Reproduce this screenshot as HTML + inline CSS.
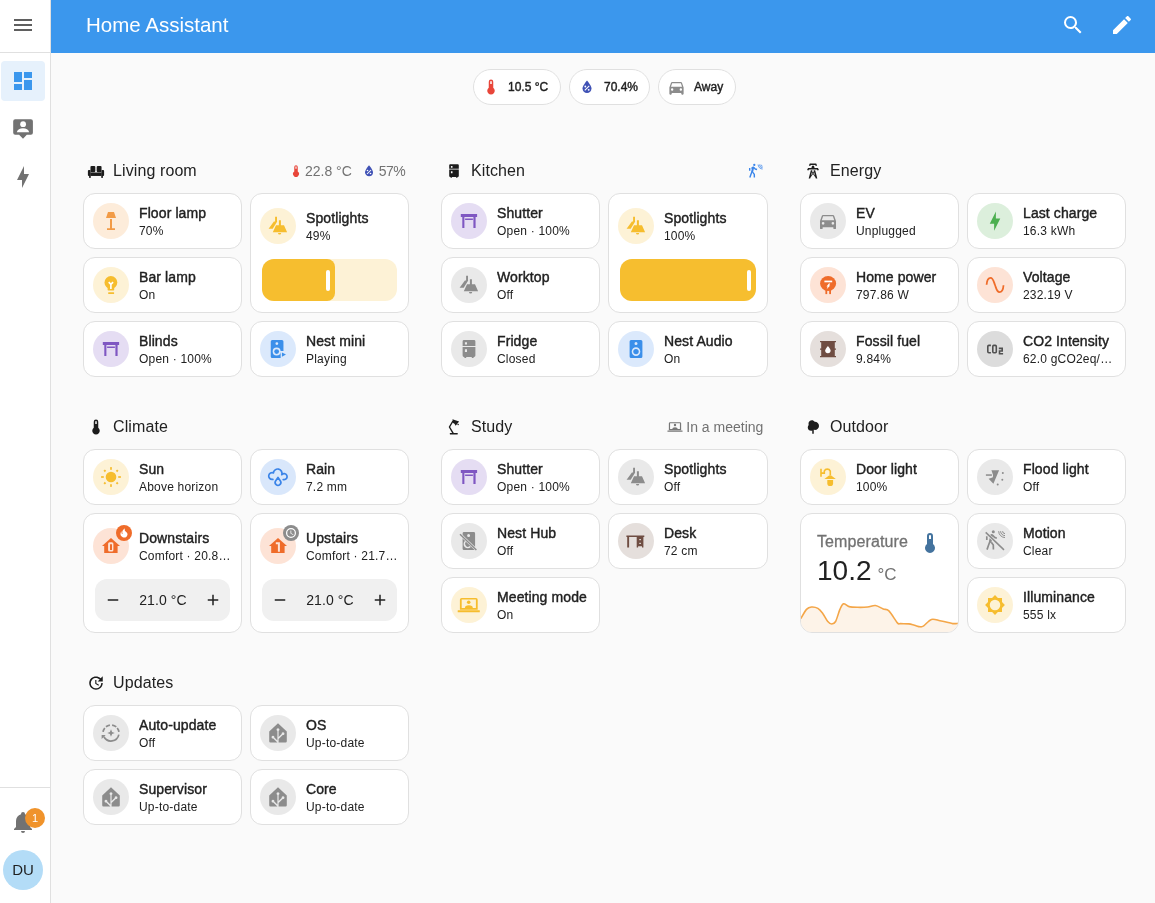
<!DOCTYPE html><html><head><meta charset="utf-8"><style>
*{box-sizing:border-box;margin:0;padding:0}
html,body{width:1155px;height:903px;overflow:hidden;background:#fafafa;font-family:"Liberation Sans",sans-serif;color:#212121}
.info,.hd,.badge,.tc,.abs{will-change:transform}
#sb{position:absolute;left:0;top:0;width:51px;height:903px;background:#fff;border-right:1px solid #e0e0e0}
#hdr{position:absolute;left:51px;top:0;width:1104px;height:53px;background:#3b97ed}
.abs{position:absolute}
.tile{position:absolute;background:#fff;border:1px solid #e0e0e0;border-radius:12px}
.tile .ic{position:absolute;left:9px;width:36px;height:36px;border-radius:50%;display:flex;align-items:center;justify-content:center}
.tile .info{position:absolute;left:55px;right:10px}
.tile .p{font-size:14px;line-height:20px;font-weight:400;-webkit-text-stroke:0.4px #212121;letter-spacing:0.1px;white-space:nowrap;overflow:hidden;text-overflow:ellipsis;color:#212121}
.tile .s{font-size:12px;line-height:16px;letter-spacing:0.2px;white-space:nowrap;overflow:hidden;text-overflow:ellipsis;color:#212121}
.ib{position:absolute;left:23px;top:-3px;width:16px;height:16px;border-radius:50%;display:flex;align-items:center;justify-content:center}
.sl{position:absolute;left:11px;right:11px;top:65px;height:42px;border-radius:12px;background:#fdf2d6;overflow:hidden}
.sl .fill{position:absolute;left:0;top:0;bottom:0;background:#f6be2f;border-radius:0 8px 8px 0}
.sl .hdl{position:absolute;right:5px;top:11px;width:4px;height:21px;border-radius:2px;background:#fff}
.tc{position:absolute;left:11px;right:11px;top:65px;height:42px;border-radius:12px;background:#f0f0f0;display:flex;align-items:center;justify-content:space-between;padding:0 8px 0 9px}
.tc .tv{font-size:14px;letter-spacing:0.1px}
.hd{position:absolute;height:24px;display:flex;align-items:center;padding:0 4px 0 4px}
.hd .hi{width:18px;height:18px;margin-right:8px}
.hd .ht{font-size:16px;color:#212121;flex:1;letter-spacing:0.1px}
.hd .hr{display:flex;align-items:center;font-size:14px;color:#727272}
.badge{position:absolute;top:69px;height:36px;border:1px solid #e0e0e0;border-radius:18px;background:#fff;display:flex;align-items:center;padding:0 0 0 8px;font-size:12px;font-weight:400;-webkit-text-stroke:0.4px #212121;letter-spacing:0;color:#212121;white-space:nowrap}
.badge svg{margin-right:8px;flex-shrink:0}
</style></head><body>
<div id="sb">
<div class="abs" style="left:11px;top:13px"><svg width="24" height="24" viewBox="0 0 24 24" fill="#5f5f5f" style="display:block;color:#5f5f5f;"><path d="M3,6H21V8H3V6M3,11H21V13H3V11M3,16H21V18H3V16Z"/></svg></div>
<div class="abs" style="left:0;top:52px;width:50px;height:1px;background:#e0e0e0"></div>
<div class="abs" style="left:1px;top:61px;width:44px;height:40px;border-radius:4px;background:#e6f1fc"></div>
<div class="abs" style="left:11px;top:69px"><svg width="24" height="24" viewBox="0 0 24 24" fill="#3b97ed" style="display:block;color:#3b97ed;"><path d="M13,3V9H21V3M13,21H21V11H13M3,21H11V15H3M3,13H11V3H3V13Z"/></svg></div>
<div class="abs" style="left:11px;top:116.8px"><svg width="24" height="24" viewBox="0 0 24 24" fill="#727272" style="display:block;color:#727272;"><path d="M4.2,2.3H19.9A2,2 0 0 1 21.9,4.3V15.8A2,2 0 0 1 19.9,17.8H15.8L12,21.8L8.1,17.8H4.2A2,2 0 0 1 2.2,15.8V4.3A2,2 0 0 1 4.2,2.3Z"/><circle cx="12.1" cy="7.2" r="2.9" fill="#fff"/><path fill="#fff" d="M5.8,15.3C6.3,12.6 9,11.2 12,11.2C15,11.2 17.7,12.6 18.2,15.3Z"/></svg></div>
<div class="abs" style="left:11px;top:164.7px"><svg width="24" height="24" viewBox="0 0 24 24" fill="#727272" style="display:block;color:#727272;"><path d="M11 15H6L13 1V9H18L11 23V15Z"/></svg></div>
<div class="abs" style="left:0;top:787px;width:50px;height:1px;background:#e0e0e0"></div>
<div class="abs" style="left:11px;top:810px"><svg width="24" height="24" viewBox="0 0 24 24" fill="#727272" style="display:block;color:#727272;"><path d="M21,19V20H3V19L5,17V11C5,7.9 7.03,5.17 10,4.29C10,4.19 10,4.1 10,4A2,2 0 0,1 12,2A2,2 0 0,1 14,4C14,4.1 14,4.19 14,4.29C16.97,5.17 19,7.9 19,11V17L21,19M14,21A2,2 0 0,1 12,23A2,2 0 0,1 10,21"/></svg></div>
<div class="abs" style="left:25px;top:808px;width:20px;height:20px;border-radius:50%;background:#f0932b;color:#fff;font-size:11px;display:flex;align-items:center;justify-content:center">1</div>
<div class="abs" style="left:3px;top:850px;width:40px;height:40px;border-radius:50%;background:#b3dcf7;color:#1f1f1f;font-size:15px;display:flex;align-items:center;justify-content:center;padding-bottom:1px">DU</div>
</div>
<div id="hdr">
<div class="abs" style="left:35px;top:13px;font-size:20.5px;color:#fff;line-height:24px">Home Assistant</div>
<div class="abs" style="left:1010px;top:12.7px"><svg width="24" height="24" viewBox="0 0 24 24" fill="#fff" style="display:block;color:#fff;"><path d="M9.5,3A6.5,6.5 0 0,1 16,9.5C16,11.11 15.41,12.59 14.44,13.73L14.71,14H15.5L20.5,19L19,20.5L14,15.5V14.71L13.73,14.44C12.59,15.41 11.11,16 9.5,16A6.5,6.5 0 0,1 3,9.5A6.5,6.5 0 0,1 9.5,3M9.5,5C7,5 5,7 5,9.5C5,12 7,14 9.5,14C12,14 14,12 14,9.5C14,7 12,5 9.5,5Z"/></svg></div>
<div class="abs" style="left:1059px;top:12.8px"><svg width="24" height="24" viewBox="0 0 24 24" fill="#fff" style="display:block;color:#fff;"><path d="M20.71,7.04C21.1,6.65 21.1,6 20.71,5.63L18.37,3.29C18,2.9 17.35,2.9 16.96,3.29L15.12,5.12L18.87,8.87M3,17.25V21H6.75L17.81,9.93L14.06,6.18L3,17.25Z"/></svg></div>
</div>
<div class="badge" style="left:473px;width:88px"><svg width="18" height="18" viewBox="0 0 24 24" fill="#e8463a" style="display:block;color:#e8463a;"><path d="M15 13V5A3 3 0 0 0 9 5V13A5 5 0 1 0 15 13M12 4A1 1 0 0 1 13 5V8H11V5A1 1 0 0 1 12 4Z"/></svg>10.5 °C</div>
<div class="badge" style="left:569px;width:80.5px"><svg width="18" height="18" viewBox="0 0 24 24" fill="#3f51b5" style="display:block;color:#3f51b5;"><path d="M12,3.25C12,3.25 6,10 6,14C6,17.32 8.69,20 12,20A6,6 0 0,0 18,14C18,10 12,3.25 12,3.25Z"/><path fill="#fff" d="M14.47,9.97L15.53,11.03L9.53,17.03L8.47,15.97Z"/><circle fill="#fff" cx="9.75" cy="11.25" r="1.25"/><circle fill="#fff" cx="14.25" cy="15.75" r="1.25"/></svg>70.4%</div>
<div class="badge" style="left:658px;width:77.5px"><svg width="19" height="19" viewBox="0 0 24 24" fill="#8c8c8c" style="display:block;color:#8c8c8c;margin-right:8px"><path d="M5,11L6.5,6.5H17.5L19,11M17.5,16A1.5,1.5 0 0,1 16,14.5A1.5,1.5 0 0,1 17.5,13A1.5,1.5 0 0,1 19,14.5A1.5,1.5 0 0,1 17.5,16M6.5,16A1.5,1.5 0 0,1 5,14.5A1.5,1.5 0 0,1 6.5,13A1.5,1.5 0 0,1 8,14.5A1.5,1.5 0 0,1 6.5,16M18.92,6C18.72,5.42 18.16,5 17.5,5H6.5C5.84,5 5.28,5.42 5.08,6L3,12V20A1,1 0 0,0 4,21H5A1,1 0 0,0 6,20V19H18V20A1,1 0 0,0 19,21H20A1,1 0 0,0 21,20V12L18.92,6Z"/></svg>Away</div>
<div class="hd" style="left:83.00px;top:159px;width:326.33px">
<div class="hi"><svg width="18" height="18" viewBox="0 0 24 24" fill="#1c1c1c" style="display:block;color:#1c1c1c;"><rect x="1.2" y="10.8" width="3.6" height="7.8" rx="1.2"/><rect x="19.2" y="10.8" width="3.6" height="7.8" rx="1.2"/><rect x="4.4" y="14" width="15.2" height="4.6"/><rect x="4.6" y="5.3" width="6.5" height="8.2" rx="1.4"/><rect x="12.9" y="5.3" width="6.5" height="8.2" rx="1.4"/><rect x="2.8" y="18" width="2.2" height="3.2"/><rect x="19" y="18" width="2.2" height="3.2"/></svg></div><div class="ht">Living room</div><div class="hr"><svg width="14" height="14" viewBox="0 0 24 24" fill="#e8463a" style="display:block;color:#e8463a;"><path d="M15 13V5A3 3 0 0 0 9 5V13A5 5 0 1 0 15 13M12 4A1 1 0 0 1 13 5V8H11V5A1 1 0 0 1 12 4Z"/></svg><span style="margin:0 9px 0 2px">22.8 °C</span><svg width="16" height="16" viewBox="0 0 24 24" fill="#3f51b5" style="display:block;color:#3f51b5;"><path d="M12,3.25C12,3.25 6,10 6,14C6,17.32 8.69,20 12,20A6,6 0 0,0 18,14C18,10 12,3.25 12,3.25Z"/><path fill="#fff" d="M14.47,9.97L15.53,11.03L9.53,17.03L8.47,15.97Z"/><circle fill="#fff" cx="9.75" cy="11.25" r="1.25"/><circle fill="#fff" cx="14.25" cy="15.75" r="1.25"/></svg><span style="margin-left:2px;letter-spacing:-0.5px">57%</span></div></div><div class="hd" style="left:441.33px;top:159px;width:326.33px">
<div class="hi"><svg width="18" height="18" viewBox="0 0 24 24" fill="#1c1c1c" style="display:block;color:#1c1c1c;"><path fill-rule="evenodd" d="M7,3H17A1.4,1.4 0 0 1 18.4,4.4V9.1H5.6V4.4A1.4,1.4 0 0 1 7,3Z M7.9,5.3V7.6H10V5.3Z M5.6,10.1H18.4V18.6A1.4,1.4 0 0 1 17,20H16.6V21H14.8V20H9.2V21H7.4V20H7A1.4,1.4 0 0 1 5.6,18.6Z M7.9,12.3V15H10V12.3Z"/></svg></div><div class="ht">Kitchen</div><div class="hr"><svg width="17" height="17" viewBox="0 0 24 24" fill="#3a85ea" style="display:block;color:#3a85ea;margin-right:-1px"><circle cx="10.3" cy="2.8" r="1.6"/><path d="M8.6,6.4L7.3,12.4" fill="none" stroke="currentColor" stroke-width="2.8" stroke-linecap="round"/><path d="M6.2,7.4L9.6,6.2L11.6,8.4L14.2,9.2M3.8,7.2V11M7.1,12L5.6,16L4,20.6M8.3,13.2L10.3,16L10.4,20.6" fill="none" stroke="currentColor" stroke-width="2" stroke-linejoin="round"/><path d="M15.7,2.2A6.3,6.3 0 0 0 22,8.5M17.6,2.2A4.4,4.4 0 0 0 22,6.6M19.6,2.2A2.4,2.4 0 0 0 22,4.6" fill="none" stroke="currentColor" stroke-width="1.1"/></svg></div></div><div class="hd" style="left:799.66px;top:159px;width:326.33px">
<div class="hi"><svg width="18" height="18" viewBox="0 0 24 24" fill="#1c1c1c" style="display:block;color:#1c1c1c;"><path d="M8.28,5.45L6.5,4.55L7.76,2H16.23L17.5,4.55L15.72,5.44L15,4H9L8.28,5.45M18.62,8H14.09L13.3,5H10.7L9.91,8H5.38L4.1,10.55L5.89,11.44L6.62,10H17.38L18.1,11.45L19.89,10.56L18.62,8M17.77,22H15.7L15.46,21.1L12,15.9L8.53,21.1L8.3,22H6.23L9.12,11H11.19L10.83,12.35L12,14.1L13.16,12.35L12.81,11H14.88L17.77,22M11.4,15L10.5,13.65L9.32,18.13L11.4,15M14.68,18.12L13.5,13.64L12.6,15L14.68,18.12Z"/></svg></div><div class="ht">Energy</div><div class="hr"></div></div><div class="hd" style="left:83.00px;top:415px;width:326.33px">
<div class="hi"><svg width="18" height="18" viewBox="0 0 24 24" fill="#1c1c1c" style="display:block;color:#1c1c1c;"><path d="M15 13V5A3 3 0 0 0 9 5V13A5 5 0 1 0 15 13M12 4A1 1 0 0 1 13 5V8H11V5A1 1 0 0 1 12 4Z"/></svg></div><div class="ht">Climate</div><div class="hr"></div></div><div class="hd" style="left:441.33px;top:415px;width:326.33px">
<div class="hi"><svg width="18" height="18" viewBox="0 0 24 24" fill="#1c1c1c" style="display:block;color:#1c1c1c;"><path d="M10.9,20.5L5.9,12L10.6,4" fill="none" stroke="currentColor" stroke-width="1.9" stroke-linejoin="round"/><rect x="6.4" y="19.9" width="10.6" height="2" rx="0.5"/><path d="M10,1.8L18.8,4.6L14.2,10.2L12.6,7.6L10.3,6.2Z"/><circle cx="17.5" cy="8.8" r="1"/></svg></div><div class="ht">Study</div><div class="hr"><svg width="16" height="16" viewBox="0 0 24 24" fill="#777" style="display:block;color:#777;"><path fill-rule="evenodd" d="M4.6,4.7H19.4A1.8,1.8 0 0 1 21.2,6.5V16.9H2.8V6.5A1.8,1.8 0 0 1 4.6,4.7Z M4.6,6.5V15.1H19.4V6.5Z"/><rect x="0.7" y="17.3" width="22.6" height="1.9" rx="0.3"/><circle cx="12" cy="9.1" r="1.8"/><path d="M7.9,15A4.1,2.6 0 0 1 16.1,15Z"/></svg><span style="margin-left:3px">In a meeting</span></div></div><div class="hd" style="left:799.66px;top:415px;width:326.33px">
<div class="hi"><svg width="18" height="18" viewBox="0 0 24 24" fill="#1c1c1c" style="display:block;color:#1c1c1c;"><path d="M11,21V16.74C10.53,16.91 10.03,17 9.5,17C7,17 5,15 5,12.5C5,11.23 5.5,10.09 6.36,9.27C6.13,8.73 6,8.13 6,7.5C6,5 8,3 10.5,3C12.06,3 13.44,3.8 14.25,5C14.33,5 14.41,5 14.5,5A5.5,5.5 0 0,1 20,10.5A5.5,5.5 0 0,1 14.5,16C14,16 13.5,15.93 13,15.79V21H11Z"/></svg></div><div class="ht">Outdoor</div><div class="hr"></div></div><div class="hd" style="left:83.00px;top:671px;width:326.33px">
<div class="hi"><svg width="18" height="18" viewBox="0 0 24 24" fill="#1c1c1c" style="display:block;color:#1c1c1c;"><path d="M21,10.12H14.22L16.96,7.3C14.23,4.6 9.81,4.5 7.08,7.2C4.35,9.91 4.35,14.28 7.08,17C9.81,19.7 14.23,19.7 16.96,17C18.32,15.65 19,14.08 19,12.1H21C21,14.08 20.12,16.65 18.36,18.39C14.85,21.87 9.15,21.87 5.64,18.39C2.14,14.92 2.11,9.28 5.62,5.81C9.13,2.34 14.76,2.34 18.27,5.81L21,3V10.12M12.5,8V12.25L16,14.33L15.28,15.54L11,13V8H12.5Z"/></svg></div><div class="ht">Updates</div><div class="hr"></div></div>
<div class="tile" style="left:83px;top:193px;width:159px;height:56px">
<div class="ic" style="top:9px;background:#fdecda"><svg width="24" height="24" viewBox="0 0 24 24" fill="#f29b46" style="display:block;color:#f29b46;"><path d="M9,3H15L17,9H7Z M11,10H13V19.2H16V21.1H8V19.2H11Z"/></svg></div>
<div class="info" style="top:9px"><div class="p">Floor lamp</div><div class="s">70%</div></div></div><div class="tile" style="left:83px;top:257px;width:159px;height:56px">
<div class="ic" style="top:9px;background:#fdf2d6"><svg width="24" height="24" viewBox="0 0 24 24" fill="#f6bd2e" style="display:block;color:#f6bd2e;"><circle cx="11.9" cy="9.5" r="6.4"/><rect x="8.6" y="12" width="6.6" height="5.5" rx="0.7"/><path d="M9.7,9.1L11.9,11.3L14.1,9.1M11.9,11.3V15.9" fill="none" stroke="#fff" stroke-width="1.6"/><rect x="9.2" y="19.2" width="5.9" height="1.9" rx="0.4"/></svg></div>
<div class="info" style="top:9px"><div class="p">Bar lamp</div><div class="s">On</div></div></div><div class="tile" style="left:83px;top:321px;width:159px;height:56px">
<div class="ic" style="top:9px;background:#e5ddf3"><svg width="24" height="24" viewBox="0 0 24 24" fill="#7f57c2" style="display:block;color:#7f57c2;"><path d="M3.8,5H20.1V7.9H18.6V19.1H16.4V7.9H7.4V19.1H5.3V7.9H3.8Z M8.1,9.4H15.9V10.9H8.1Z"/></svg></div>
<div class="info" style="top:9px"><div class="p">Blinds</div><div class="s">Open · 100%</div></div></div><div class="tile" style="left:250px;top:321px;width:159px;height:56px">
<div class="ic" style="top:9px;background:#dbe9fc"><svg width="24" height="24" viewBox="0 0 24 24" fill="#3b8fea" style="display:block;color:#3b8fea;"><g transform="translate(-0.85 0)"><path fill-rule="evenodd" d="M7.1,3H16.8A1.5,1.5 0 0 1 18.3,4.5V14H15.5V21H7.1A1.5,1.5 0 0 1 5.6,19.5V4.5A1.5,1.5 0 0 1 7.1,3Z M11.5,10.6A4,4 0 1 0 11.5,18.6A4,4 0 1 0 11.5,10.6Z M11.7,5.2A1.4,1.4 0 1 0 11.7,8A1.4,1.4 0 1 0 11.7,5.2Z"/><circle cx="11.5" cy="14.6" r="2.4"/><path d="M16.8,15.4L20.8,17.6L16.8,19.8Z"/></g></svg></div>
<div class="info" style="top:9px"><div class="p">Nest mini</div><div class="s">Playing</div></div></div><div class="tile" style="left:250px;top:193px;width:159px;height:120px">
<div class="ic" style="top:14px;background:#fdf2d6"><svg width="24" height="24" viewBox="0 0 24 24" fill="#f6bd2e" style="display:block;color:#f6bd2e;"><path d="M12.9,6.2H14.9V11.2H18L21.1,18.3H6.8L10,11.2H12.9Z"/><path d="M12,18.9H15.2A1.6,1.6 0 0 1 12,18.9Z"/><path d="M9.1,2.8H11V7.2L11.2,7.4L6.7,14.7H2.6L7.9,7.4H9.1Z"/></svg></div>
<div class="info" style="top:14px"><div class="p">Spotlights</div><div class="s">49%</div></div><div class="sl"><div class="fill" style="width:54%"><div class="hdl"></div></div></div></div><div class="tile" style="left:441px;top:193px;width:159px;height:56px">
<div class="ic" style="top:9px;background:#e5ddf3"><svg width="24" height="24" viewBox="0 0 24 24" fill="#7f57c2" style="display:block;color:#7f57c2;"><path d="M3.8,5H20.1V7.9H18.6V19.1H16.4V7.9H7.4V19.1H5.3V7.9H3.8Z M8.1,9.4H15.9V10.9H8.1Z"/></svg></div>
<div class="info" style="top:9px"><div class="p">Shutter</div><div class="s">Open · 100%</div></div></div><div class="tile" style="left:441px;top:257px;width:159px;height:56px">
<div class="ic" style="top:9px;background:#e9e9e9"><svg width="24" height="24" viewBox="0 0 24 24" fill="#8c8c8c" style="display:block;color:#8c8c8c;"><path d="M12.9,6.2H14.9V11.2H18L21.1,18.3H6.8L10,11.2H12.9Z"/><path d="M12,18.9H15.2A1.6,1.6 0 0 1 12,18.9Z"/><path d="M9.1,2.8H11V7.2L11.2,7.4L6.7,14.7H2.6L7.9,7.4H9.1Z"/></svg></div>
<div class="info" style="top:9px"><div class="p">Worktop</div><div class="s">Off</div></div></div><div class="tile" style="left:441px;top:321px;width:159px;height:56px">
<div class="ic" style="top:9px;background:#e9e9e9"><svg width="24" height="24" viewBox="0 0 24 24" fill="#8c8c8c" style="display:block;color:#8c8c8c;"><path fill-rule="evenodd" d="M7,3H17A1.4,1.4 0 0 1 18.4,4.4V9.1H5.6V4.4A1.4,1.4 0 0 1 7,3Z M7.9,5.3V7.6H10V5.3Z M5.6,10.1H18.4V18.6A1.4,1.4 0 0 1 17,20H16.6V21H14.8V20H9.2V21H7.4V20H7A1.4,1.4 0 0 1 5.6,18.6Z M7.9,12.3V15H10V12.3Z"/></svg></div>
<div class="info" style="top:9px"><div class="p">Fridge</div><div class="s">Closed</div></div></div><div class="tile" style="left:608px;top:321px;width:160px;height:56px">
<div class="ic" style="top:9px;background:#dbe9fc"><svg width="24" height="24" viewBox="0 0 24 24" fill="#3b8fea" style="display:block;color:#3b8fea;"><path fill-rule="evenodd" d="M7.1,3H16.9A1.5,1.5 0 0 1 18.4,4.5V19.5A1.5,1.5 0 0 1 16.9,21H7.1A1.5,1.5 0 0 1 5.6,19.5V4.5A1.5,1.5 0 0 1 7.1,3Z M12,10.3A4.3,4.3 0 1 0 12,18.9A4.3,4.3 0 1 0 12,10.3Z M12,5.1A1.5,1.5 0 1 0 12,8.1A1.5,1.5 0 1 0 12,5.1Z"/><circle cx="12" cy="14.6" r="2.7"/></svg></div>
<div class="info" style="top:9px"><div class="p">Nest Audio</div><div class="s">On</div></div></div><div class="tile" style="left:608px;top:193px;width:160px;height:120px">
<div class="ic" style="top:14px;background:#fdf2d6"><svg width="24" height="24" viewBox="0 0 24 24" fill="#f6bd2e" style="display:block;color:#f6bd2e;"><path d="M12.9,6.2H14.9V11.2H18L21.1,18.3H6.8L10,11.2H12.9Z"/><path d="M12,18.9H15.2A1.6,1.6 0 0 1 12,18.9Z"/><path d="M9.1,2.8H11V7.2L11.2,7.4L6.7,14.7H2.6L7.9,7.4H9.1Z"/></svg></div>
<div class="info" style="top:14px"><div class="p">Spotlights</div><div class="s">100%</div></div><div class="sl"><div class="fill" style="width:100%"><div class="hdl"></div></div></div></div><div class="tile" style="left:800px;top:193px;width:159px;height:56px">
<div class="ic" style="top:9px;background:#e9e9e9"><svg width="24" height="24" viewBox="0 0 24 24" fill="#8c8c8c" style="display:block;color:#8c8c8c;"><g transform="translate(1.32 1.43) scale(0.89)"><path d="M5,11L6.5,6.5H17.5L19,11M17.5,16A1.5,1.5 0 0,1 16,14.5A1.5,1.5 0 0,1 17.5,13A1.5,1.5 0 0,1 19,14.5A1.5,1.5 0 0,1 17.5,16M6.5,16A1.5,1.5 0 0,1 5,14.5A1.5,1.5 0 0,1 6.5,13A1.5,1.5 0 0,1 8,14.5A1.5,1.5 0 0,1 6.5,16M18.92,6C18.72,5.42 18.16,5 17.5,5H6.5C5.84,5 5.28,5.42 5.08,6L3,12V20A1,1 0 0,0 4,21H5A1,1 0 0,0 6,20V19H18V20A1,1 0 0,0 19,21H20A1,1 0 0,0 21,20V12L18.92,6Z"/></g></svg></div>
<div class="info" style="top:9px"><div class="p">EV</div><div class="s">Unplugged</div></div></div><div class="tile" style="left:967px;top:193px;width:159px;height:56px">
<div class="ic" style="top:9px;background:#dcefdc"><svg width="24" height="24" viewBox="0 0 24 24" fill="#4caf50" style="display:block;color:#4caf50;"><g transform="translate(1.5 1.5) scale(0.875)"><path d="M11 15H6L13 1V9H18L11 23V15Z"/></g></svg></div>
<div class="info" style="top:9px"><div class="p">Last charge</div><div class="s">16.3 kWh</div></div></div><div class="tile" style="left:800px;top:257px;width:159px;height:56px">
<div class="ic" style="top:9px;background:#fde3d6"><svg width="24" height="24" viewBox="0 0 24 24" fill="#ef6c2a" style="display:block;color:#ef6c2a;"><ellipse cx="12.1" cy="10.5" rx="8" ry="7.5"/><rect x="9.4" y="15" width="1.8" height="6.1"/><rect x="13.2" y="15" width="1.8" height="6.1"/><rect x="8.4" y="7.6" width="7.8" height="1.7" fill="#fff"/><path fill="#fff" d="M12.9,10.5H14.3L13,12.6H14.2L10.6,16.3L11.7,13.6H10.5Z"/></svg></div>
<div class="info" style="top:9px"><div class="p">Home power</div><div class="s">797.86 W</div></div></div><div class="tile" style="left:967px;top:257px;width:159px;height:56px">
<div class="ic" style="top:9px;background:#fde3d6"><svg width="24" height="24" viewBox="0 0 24 24" fill="#ef6c2a" style="display:block;color:#ef6c2a;"><path d="M3.6,11.8C3.9,7 5.5,4.9 7.6,4.9C10.2,4.9 10.8,9 12,12C13.2,15 13.8,19.1 16.4,19.1C18.5,19.1 20.2,17 20.5,12.2" fill="none" stroke="currentColor" stroke-width="1.8"/></svg></div>
<div class="info" style="top:9px"><div class="p">Voltage</div><div class="s">232.19 V</div></div></div><div class="tile" style="left:800px;top:321px;width:159px;height:56px">
<div class="ic" style="top:9px;background:#e5dfdc"><svg width="24" height="24" viewBox="0 0 24 24" fill="#6f4d42" style="display:block;color:#6f4d42;"><path d="M4,4H20V5.3H18.8V11.4H20V12.7H18.8V19H20V20.2H4V19H5.2V12.7H4V11.4H5.2V5.3H4Z"/><path fill="#fff" d="M11.9,8.9C11.9,8.9 9.2,11.8 9.2,13.5A2.7,2.7 0 0 0 14.6,13.5C14.6,11.8 11.9,8.9 11.9,8.9Z"/></svg></div>
<div class="info" style="top:9px"><div class="p">Fossil fuel</div><div class="s">9.84%</div></div></div><div class="tile" style="left:967px;top:321px;width:159px;height:56px">
<div class="ic" style="top:9px;background:#dcdcdc"><svg width="24" height="24" viewBox="0 0 24 24" fill="#505050" style="display:block;color:#505050;"><g fill="none" stroke="currentColor" stroke-width="1.6"><path d="M7.9,8.4H5.9Q4.8,8.4 4.8,9.5V14.6Q4.8,15.7 5.9,15.7H7.9"/><rect x="9.8" y="8.4" width="3.5" height="7.3" rx="1"/><path d="M15.8,11.4H19.2V14H16.5V16.7H20.1"/></g></svg></div>
<div class="info" style="top:9px"><div class="p">CO2 Intensity</div><div class="s">62.0 gCO2eq/kWh</div></div></div><div class="tile" style="left:83px;top:449px;width:159px;height:56px">
<div class="ic" style="top:9px;background:#fdf2d6"><svg width="24" height="24" viewBox="0 0 24 24" fill="#f6bd2e" style="display:block;color:#f6bd2e;"><circle cx="12" cy="12" r="5.3"/><rect x="11.15" y="2.1" width="1.7" height="2.7"/><rect x="11.15" y="19.2" width="1.7" height="2.7"/><rect x="2.1" y="11.15" width="2.7" height="1.7"/><rect x="19.2" y="11.15" width="2.7" height="1.7"/><rect x="4.9" y="4.9" width="1.9" height="1.9" transform="rotate(45 5.85 5.85)"/><rect x="17.2" y="4.9" width="1.9" height="1.9" transform="rotate(45 18.15 5.85)"/><rect x="4.9" y="17.2" width="1.9" height="1.9" transform="rotate(45 5.85 18.15)"/><rect x="17.2" y="17.2" width="1.9" height="1.9" transform="rotate(45 18.15 18.15)"/></svg></div>
<div class="info" style="top:9px"><div class="p">Sun</div><div class="s">Above horizon</div></div></div><div class="tile" style="left:250px;top:449px;width:159px;height:56px">
<div class="ic" style="top:9px;background:#d9e7fb"><svg width="24" height="24" viewBox="0 0 24 24" fill="#3b84e8" style="display:block;color:#3b84e8;"><g fill="none" stroke="currentColor" stroke-width="1.7" stroke-linecap="round" stroke-linejoin="round"><path d="M6.9,14.40H6.10 A3.4,3.4 0 1 1 7.42,7.87 A4.3,4.3 0 1 1 15.76,9.73 A3.0,3.0 0 1 1 18.10,14.60 H17.2"/><path d="M12,12.4L9.6,15.9A2.85,2.85 0 1 0 14.4,15.9Z"/></g></svg></div>
<div class="info" style="top:9px"><div class="p">Rain</div><div class="s">7.2 mm</div></div></div><div class="tile" style="left:83px;top:513px;width:159px;height:120px">
<div class="ic" style="top:14px;background:#fde3d6"><svg width="24" height="24" viewBox="0 0 24 24" fill="#ef6c2a" style="display:block;color:#ef6c2a;"><path fill-rule="evenodd" d="M12,3.9L3,12H5.2V19H18.6V12H21Z M10.6,8.3H12.9A1.5,1.5 0 0 1 14.4,9.8V16.1A1.5,1.5 0 0 1 12.9,17.6H10.6A1.5,1.5 0 0 1 9.1,16.1V9.8A1.5,1.5 0 0 1 10.6,8.3Z M11,10.3V16H13V10.3Z"/></svg><div class="ib" style="background:#ef6c2a"><svg width="12" height="12" viewBox="0 0 24 24" fill="#fff" style="display:block;color:#fff;"><path d="M17.66 11.2C17.43 10.9 17.15 10.64 16.89 10.38C16.22 9.78 15.46 9.35 14.82 8.72C13.33 7.26 13 4.85 13.95 3C13 3.23 12.17 3.75 11.46 4.32C8.87 6.4 7.85 10.07 9.07 13.22C9.11 13.32 9.15 13.42 9.15 13.55C9.15 13.77 9 13.97 8.8 14.05C8.57 14.15 8.33 14.09 8.14 13.93C8.08 13.88 8.04 13.83 8 13.76C6.87 12.33 6.69 10.28 7.45 8.64C5.78 10 4.87 12.3 5 14.47C5.06 14.97 5.12 15.47 5.29 15.97C5.43 16.57 5.7 17.17 6 17.7C7.08 19.43 8.95 20.67 10.96 20.92C13.1 21.19 15.39 20.8 17.03 19.32C18.86 17.66 19.5 15 18.56 12.72L18.43 12.46C18.22 12 17.66 11.2 17.66 11.2Z"/></svg></div></div>
<div class="info" style="top:14px"><div class="p">Downstairs</div><div class="s">Comfort · 20.8 °C</div></div><div class="tc"><div class="tb"><svg width="18" height="18" viewBox="0 0 24 24" fill="#212121" style="display:block;color:#212121;"><path d="M19,13H5V11H19V13Z"/></svg></div><div class="tv">21.0 °C</div><div class="tb"><svg width="18" height="18" viewBox="0 0 24 24" fill="#212121" style="display:block;color:#212121;"><path d="M19,13H13V19H11V13H5V11H11V5H13V11H19V13Z"/></svg></div></div></div><div class="tile" style="left:250px;top:513px;width:159px;height:120px">
<div class="ic" style="top:14px;background:#fde3d6"><svg width="24" height="24" viewBox="0 0 24 24" fill="#ef6c2a" style="display:block;color:#ef6c2a;"><path fill-rule="evenodd" d="M12,3.9L3,12H5.2V19H18.6V12H21Z M9.8,8.3H13.9V17.8H11.9V10.3H9.8Z"/></svg><div class="ib" style="background:#8c8c8c"><svg width="12" height="12" viewBox="0 0 24 24" fill="#fff" style="display:block;color:#fff;"><path fill-rule="evenodd" d="M12,2A10,10 0 1 0 12,22A10,10 0 1 0 12,2Z M12,4.5A7.5,7.5 0 1 1 12,19.5A7.5,7.5 0 1 1 12,4.5Z"/><path d="M12.5,7V12.25L17,14.92L16.25,16.15L11,13V7H12.5Z"/></svg></div></div>
<div class="info" style="top:14px"><div class="p">Upstairs</div><div class="s">Comfort · 21.7 °C</div></div><div class="tc"><div class="tb"><svg width="18" height="18" viewBox="0 0 24 24" fill="#212121" style="display:block;color:#212121;"><path d="M19,13H5V11H19V13Z"/></svg></div><div class="tv">21.0 °C</div><div class="tb"><svg width="18" height="18" viewBox="0 0 24 24" fill="#212121" style="display:block;color:#212121;"><path d="M19,13H13V19H11V13H5V11H11V5H13V11H19V13Z"/></svg></div></div></div><div class="tile" style="left:441px;top:449px;width:159px;height:56px">
<div class="ic" style="top:9px;background:#e5ddf3"><svg width="24" height="24" viewBox="0 0 24 24" fill="#7f57c2" style="display:block;color:#7f57c2;"><path d="M3.8,5H20.1V7.9H18.6V19.1H16.4V7.9H7.4V19.1H5.3V7.9H3.8Z M8.1,9.4H15.9V10.9H8.1Z"/></svg></div>
<div class="info" style="top:9px"><div class="p">Shutter</div><div class="s">Open · 100%</div></div></div><div class="tile" style="left:608px;top:449px;width:160px;height:56px">
<div class="ic" style="top:9px;background:#e9e9e9"><svg width="24" height="24" viewBox="0 0 24 24" fill="#8c8c8c" style="display:block;color:#8c8c8c;"><path d="M12.9,6.2H14.9V11.2H18L21.1,18.3H6.8L10,11.2H12.9Z"/><path d="M12,18.9H15.2A1.6,1.6 0 0 1 12,18.9Z"/><path d="M9.1,2.8H11V7.2L11.2,7.4L6.7,14.7H2.6L7.9,7.4H9.1Z"/></svg></div>
<div class="info" style="top:9px"><div class="p">Spotlights</div><div class="s">Off</div></div></div><div class="tile" style="left:441px;top:513px;width:159px;height:56px">
<div class="ic" style="top:9px;background:#e9e9e9"><svg width="24" height="24" viewBox="0 0 24 24" fill="#8c8c8c" style="display:block;color:#8c8c8c;"><path fill-rule="evenodd" d="M7,3H16.7A1.4,1.4 0 0 1 18.1,4.4V19.7A1.4,1.4 0 0 1 16.7,21.1H7A1.4,1.4 0 0 1 5.6,19.7V4.4A1.4,1.4 0 0 1 7,3Z M11.6,5.1A1.5,1.5 0 1 0 11.6,8.1A1.5,1.5 0 1 0 11.6,5.1Z M7.9,11.9A3.9,3.9 0 0 0 13.8,18.1L12.9,17.1A2.5,2.5 0 0 1 9.3,12.6Z"/><path d="M3,5.3L19.4,20.9" stroke="#e8e8e8" stroke-width="2.6"/><path d="M3,5.3L19.4,20.9" stroke="currentColor" stroke-width="1.4"/></svg></div>
<div class="info" style="top:9px"><div class="p">Nest Hub</div><div class="s">Off</div></div></div><div class="tile" style="left:608px;top:513px;width:160px;height:56px">
<div class="ic" style="top:9px;background:#e5dfdc"><svg width="24" height="24" viewBox="0 0 24 24" fill="#6f4d42" style="display:block;color:#6f4d42;"><path d="M2.4,6.6H20.3V8H19.4V18.6H18V17.3H14.1V18.6H12.7V8H5.1V18.6H3.2V8H2.4Z"/><rect x="15.3" y="10" width="1.6" height="1.2" fill="#e5dedb"/><rect x="15.3" y="13.8" width="1.6" height="1.2" fill="#e5dedb"/></svg></div>
<div class="info" style="top:9px"><div class="p">Desk</div><div class="s">72 cm</div></div></div><div class="tile" style="left:441px;top:577px;width:159px;height:56px">
<div class="ic" style="top:9px;background:#fdf2d6"><svg width="24" height="24" viewBox="0 0 24 24" fill="#f6bd2e" style="display:block;color:#f6bd2e;"><path fill-rule="evenodd" d="M4.6,5.1H19A1.7,1.7 0 0 1 20.7,6.8V16.7H2.9V6.8A1.7,1.7 0 0 1 4.6,5.1Z M4.7,6.6V15.1H18.9V6.6Z"/><rect x="0.7" y="17.3" width="22.1" height="1.9" rx="0.3"/><circle cx="11.7" cy="9.2" r="1.8"/><path d="M7.9,15A3.95,2.8 0 0 1 15.8,15Z"/></svg></div>
<div class="info" style="top:9px"><div class="p">Meeting mode</div><div class="s">On</div></div></div><div class="tile" style="left:800px;top:449px;width:159px;height:56px">
<div class="ic" style="top:9px;background:#fdf2d6"><svg width="24" height="24" viewBox="0 0 24 24" fill="#f6bd2e" style="display:block;color:#f6bd2e;"><path d="M5,3.8V11.8M5,8.1H8.3V6.1A3.3,3.3 0 0 1 14.3,6.1V10.6" fill="none" stroke="currentColor" stroke-width="1.6"/><path d="M13,10.4H15.2L19.8,13.9H8.4Z"/><path d="M11.3,15H17.1V18.2A2.9,2.9 0 0 1 11.3,18.2Z"/></svg></div>
<div class="info" style="top:9px"><div class="p">Door light</div><div class="s">100%</div></div></div><div class="tile" style="left:967px;top:449px;width:159px;height:56px">
<div class="ic" style="top:9px;background:#e9e9e9"><svg width="24" height="24" viewBox="0 0 24 24" fill="#8c8c8c" style="display:block;color:#8c8c8c;"><rect x="2.9" y="9.3" width="6" height="1.5"/><path d="M8.4,5.3H16.1L10.4,18.8L5.6,13.7L9.5,12.5L10.1,11.3L9.9,9.4Z"/><circle cx="19.8" cy="8" r="1"/><circle cx="19.3" cy="14.8" r="1"/><circle cx="14.7" cy="19.6" r="1"/></svg></div>
<div class="info" style="top:9px"><div class="p">Flood light</div><div class="s">Off</div></div></div><div class="tile" style="left:967px;top:513px;width:159px;height:56px">
<div class="ic" style="top:9px;background:#e9e9e9"><svg width="24" height="24" viewBox="0 0 24 24" fill="#8c8c8c" style="display:block;color:#8c8c8c;"><circle cx="10.3" cy="2.8" r="1.5"/><path d="M8.6,6.4L7.3,12.4" fill="none" stroke="currentColor" stroke-width="2.6" stroke-linecap="round"/><path d="M6.2,7.4L9.6,6.2L11.6,8.4L13.8,9.2M3.8,7.2V11M7.1,12L5.6,16L4,20.6M8.3,13.2L10.3,16L10.4,20.6" fill="none" stroke="currentColor" stroke-width="1.7" stroke-linejoin="round"/><path d="M15.7,2.2A6.3,6.3 0 0 0 22,8.5M17.6,2.2A4.4,4.4 0 0 0 22,6.6M19.6,2.2A2.4,2.4 0 0 0 22,4.6" fill="none" stroke="currentColor" stroke-width="1"/><path d="M2.7,3.4L21,20.9" stroke="#e8e8e8" stroke-width="2.8"/><path d="M2.7,3.4L21,20.9" stroke="currentColor" stroke-width="1.5"/></svg></div>
<div class="info" style="top:9px"><div class="p">Motion</div><div class="s">Clear</div></div></div><div class="tile" style="left:967px;top:577px;width:159px;height:56px">
<div class="ic" style="top:9px;background:#fdf2d6"><svg width="24" height="24" viewBox="0 0 24 24" fill="#f6bd2e" style="display:block;color:#f6bd2e;"><g transform="translate(1.5 1.5) scale(0.875)"><path fill-rule="evenodd" d="M20,8.69V4H15.31L12,0.69L8.69,4H4V8.69L0.69,12L4,15.31V20H8.69L12,23.31L15.31,20H20V15.31L23.31,12L20,8.69Z M12,6A6,6 0 1 0 12,18A6,6 0 1 0 12,6Z"/></g></svg></div>
<div class="info" style="top:9px"><div class="p">Illuminance</div><div class="s">555 lx</div></div></div><div class="tile" style="left:800.00px;top:513px;width:159.00px;height:120px;overflow:hidden">
<div class="abs" style="left:16px;top:19px;font-size:16px;color:#727272;letter-spacing:0.1px;-webkit-text-stroke:0.3px #727272">Temperature</div>
<div class="abs" style="left:117px;top:17px"><svg width="24" height="24" viewBox="0 0 24 24" fill="#44739e" style="display:block;color:#44739e;"><path d="M15 13V5A3 3 0 0 0 9 5V13A5 5 0 1 0 15 13M12 4A1 1 0 0 1 13 5V8H11V5A1 1 0 0 1 12 4Z"/></svg></div>
<div class="abs" style="left:16px;top:40px;font-size:28px;color:#212121;line-height:34px">10.2<span style="font-size:17px;color:#727272;margin-left:6px">°C</span></div>
<svg class="abs" style="left:-1px;top:-1px" width="159.0" height="120" viewBox="0 0 159.0 120"><path d="M0.80,105.70 C1.75,104.15 4.72,98.35 6.50,96.40 C8.28,94.45 9.60,94.17 11.50,94.00 C13.40,93.83 16.00,94.28 17.90,95.40 C19.80,96.52 21.25,98.52 22.90,100.70 C24.55,102.88 26.33,106.78 27.80,108.50 C29.27,110.22 30.40,111.00 31.70,111.00 C33.00,111.00 34.23,110.93 35.60,108.50 C36.97,106.07 38.58,99.36 39.90,96.40 C41.22,93.44 41.97,91.22 43.50,90.75 C45.03,90.28 46.73,93.01 49.10,93.60 C51.47,94.19 54.62,94.23 57.70,94.30 C60.78,94.37 64.65,94.30 67.60,94.00 C70.55,93.70 72.80,92.17 75.40,92.50 C78.00,92.83 80.95,95.10 83.20,96.00 C85.45,96.90 86.53,95.58 88.90,97.90 C91.27,100.22 95.50,107.78 97.40,109.90 C99.30,112.02 98.40,110.43 100.30,110.60 C102.20,110.77 106.43,110.62 108.80,110.90 C111.17,111.18 112.60,111.82 114.50,112.30 C116.40,112.78 118.67,113.72 120.20,113.80 C121.73,113.88 121.82,114.03 123.70,112.80 C125.58,111.57 128.78,107.23 131.50,106.40 C134.22,105.57 137.40,107.33 140.00,107.80 C142.60,108.27 144.97,108.73 147.10,109.20 C149.23,109.67 150.90,110.40 152.80,110.60 C154.70,110.80 157.55,110.43 158.50,110.40 L159.0,120 L0,120 Z" fill="#fdf3e8"/><path d="M0.80,105.70 C1.75,104.15 4.72,98.35 6.50,96.40 C8.28,94.45 9.60,94.17 11.50,94.00 C13.40,93.83 16.00,94.28 17.90,95.40 C19.80,96.52 21.25,98.52 22.90,100.70 C24.55,102.88 26.33,106.78 27.80,108.50 C29.27,110.22 30.40,111.00 31.70,111.00 C33.00,111.00 34.23,110.93 35.60,108.50 C36.97,106.07 38.58,99.36 39.90,96.40 C41.22,93.44 41.97,91.22 43.50,90.75 C45.03,90.28 46.73,93.01 49.10,93.60 C51.47,94.19 54.62,94.23 57.70,94.30 C60.78,94.37 64.65,94.30 67.60,94.00 C70.55,93.70 72.80,92.17 75.40,92.50 C78.00,92.83 80.95,95.10 83.20,96.00 C85.45,96.90 86.53,95.58 88.90,97.90 C91.27,100.22 95.50,107.78 97.40,109.90 C99.30,112.02 98.40,110.43 100.30,110.60 C102.20,110.77 106.43,110.62 108.80,110.90 C111.17,111.18 112.60,111.82 114.50,112.30 C116.40,112.78 118.67,113.72 120.20,113.80 C121.73,113.88 121.82,114.03 123.70,112.80 C125.58,111.57 128.78,107.23 131.50,106.40 C134.22,105.57 137.40,107.33 140.00,107.80 C142.60,108.27 144.97,108.73 147.10,109.20 C149.23,109.67 150.90,110.40 152.80,110.60 C154.70,110.80 157.55,110.43 158.50,110.40" fill="none" stroke="#f4a648" stroke-width="1.6" stroke-linejoin="round"/></svg>
</div><div class="tile" style="left:83px;top:705px;width:159px;height:56px">
<div class="ic" style="top:9px;background:#e9e9e9"><svg width="24" height="24" viewBox="0 0 24 24" fill="#8c8c8c" style="display:block;color:#8c8c8c;"><g fill="none" stroke="currentColor" stroke-width="1.7"><path d="M19.92,10.89A8,8 0 0 0 18.22,6.97 M17.25,5.96A8,8 0 0 0 13.11,4.08 M10.89,4.08A8,8 0 0 0 6.97,5.78 M5.78,6.97A8,8 0 0 0 4.08,10.89"/><path d="M19.83,13.66A8,8 0 0 1 4.94,15.76"/></g><path d="M2.6,13.9H6.7L2.6,18Z"/><path d="M12,8.3L13.1,10.9L15.7,12L13.1,13.1L12,15.7L10.9,13.1L8.3,12L10.9,10.9Z"/></svg></div>
<div class="info" style="top:9px"><div class="p">Auto-update</div><div class="s">Off</div></div></div><div class="tile" style="left:250px;top:705px;width:159px;height:56px">
<div class="ic" style="top:9px;background:#e9e9e9"><svg width="24" height="24" viewBox="0 0 24 24" fill="#8c8c8c" style="display:block;color:#8c8c8c;"><path fill-rule="evenodd" d="M12,2.2L20.8,10.6V20.3A1.2,1.2 0 0 1 19.6,21.5H12.6V18.1L16.7,14A1.4,1.4 0 1 0 15.7,13L12.6,16.1V10A1.4,1.4 0 1 0 11.4,10V19.5L8.3,16.4A1.4,1.4 0 1 0 7.3,17.4L11.4,21.5H4.4A1.2,1.2 0 0 1 3.2,20.3V10.6Z"/></svg></div>
<div class="info" style="top:9px"><div class="p">OS</div><div class="s">Up-to-date</div></div></div><div class="tile" style="left:83px;top:769px;width:159px;height:56px">
<div class="ic" style="top:9px;background:#e9e9e9"><svg width="24" height="24" viewBox="0 0 24 24" fill="#8c8c8c" style="display:block;color:#8c8c8c;"><path fill-rule="evenodd" d="M12,2.2L20.8,10.6V20.3A1.2,1.2 0 0 1 19.6,21.5H12.6V18.1L16.7,14A1.4,1.4 0 1 0 15.7,13L12.6,16.1V10A1.4,1.4 0 1 0 11.4,10V19.5L8.3,16.4A1.4,1.4 0 1 0 7.3,17.4L11.4,21.5H4.4A1.2,1.2 0 0 1 3.2,20.3V10.6Z"/></svg></div>
<div class="info" style="top:9px"><div class="p">Supervisor</div><div class="s">Up-to-date</div></div></div><div class="tile" style="left:250px;top:769px;width:159px;height:56px">
<div class="ic" style="top:9px;background:#e9e9e9"><svg width="24" height="24" viewBox="0 0 24 24" fill="#8c8c8c" style="display:block;color:#8c8c8c;"><path fill-rule="evenodd" d="M12,2.2L20.8,10.6V20.3A1.2,1.2 0 0 1 19.6,21.5H12.6V18.1L16.7,14A1.4,1.4 0 1 0 15.7,13L12.6,16.1V10A1.4,1.4 0 1 0 11.4,10V19.5L8.3,16.4A1.4,1.4 0 1 0 7.3,17.4L11.4,21.5H4.4A1.2,1.2 0 0 1 3.2,20.3V10.6Z"/></svg></div>
<div class="info" style="top:9px"><div class="p">Core</div><div class="s">Up-to-date</div></div></div>
</body></html>
